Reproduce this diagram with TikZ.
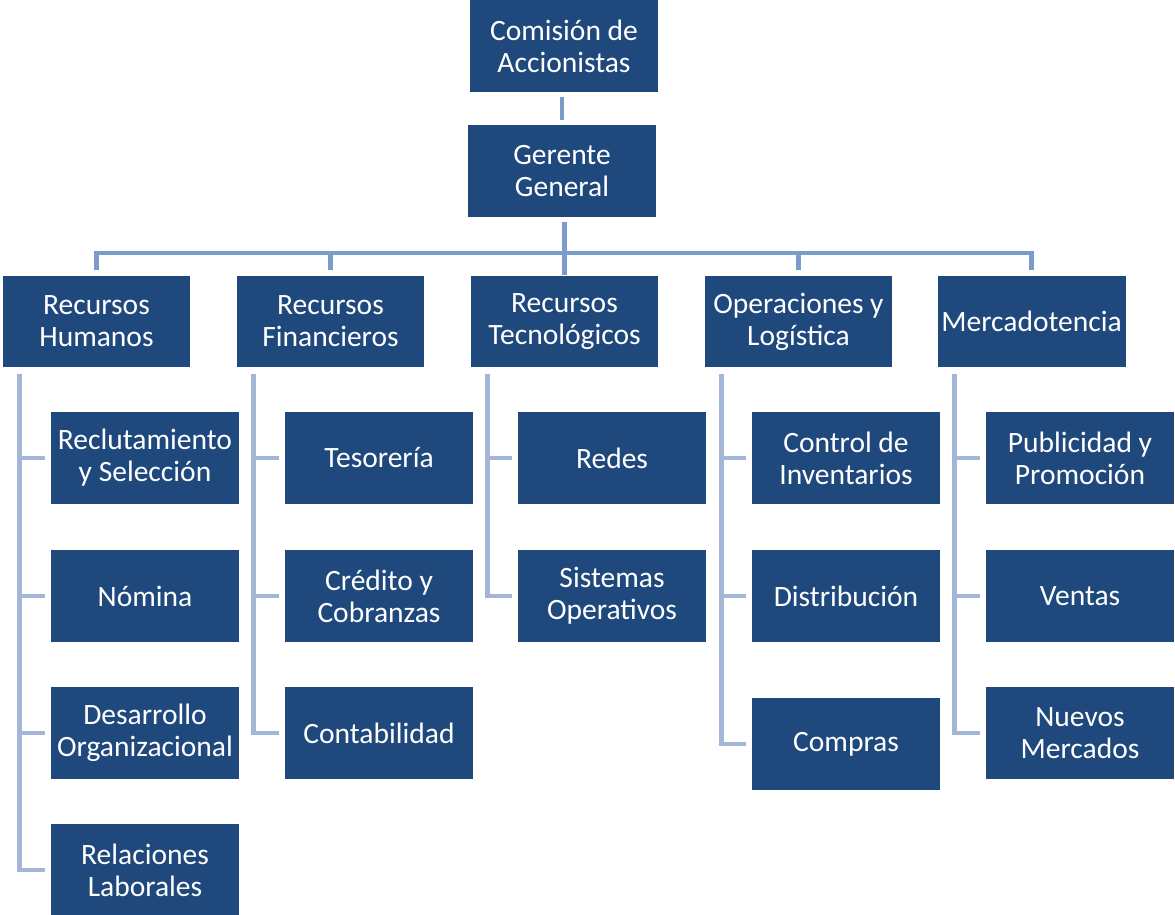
\documentclass[tikz,border=0pt]{standalone}
\usepackage{fontspec}
\setmainfont{Carlito}
\definecolor{boxblue}{HTML}{1F497D}
\definecolor{linemain}{HTML}{7B9BCB}
\definecolor{linesub}{HTML}{A4B6D8}
\tikzset{
	unit/.style={fill=boxblue, text=white, minimum width=3.76cm, minimum height=1.84cm, inner sep=1pt, align=center, font=\fontsize{16.8}{18.3}\selectfont},
	mainline/.style={draw=linemain, line width=2.8pt},
	subline/.style={draw=linesub, line width=2.8pt},
}
\begin{document}
\begin{tikzpicture}[x=0.02cm, y=-0.02cm]
	\useasboundingbox (0,0) rectangle (1175,915);
	% top
	\node[unit] (comision) at (564,46) {Comisión de\\Accionistas};
	\node[unit] (gerente) at (562,171) {Gerente\\General};
	\draw[mainline, shorten <=0.1cm, shorten >=0.1cm] (gerente) -- (gerente |- comision.south);
	% areas
	\foreach \n/\x/\t in {rh/96.5/{Recursos\\Humanos}, rf/330.5/{Recursos\\Financieros}, rt/564.5/{Recursos\\Tecnológicos}, ol/798.5/{Operaciones y\\Logística}, merc/1031.5/{Mercadotencia}}
	\node[unit] (\n) at (\x,321.5) {\t};
	\coordinate (bus) at (564,253);
	\draw[mainline, shorten <=0.1cm] (gerente.south -| rt) -- (rt.north);
	\draw[mainline, shorten <=0.1cm, shorten >=0.1cm] (rh.north) -- (bus -| rh) -- (bus -| merc) -- (merc.north);
	\foreach \n in {rf,ol}
	\draw[mainline, shorten >=0.1cm] (bus -| \n) -- (\n.north);
	% departments
	\foreach \i/\y/\t in {1/458/{Reclutamiento\\y Selección}, 2/596/{Nómina}, 3/733/{Desarrollo\\Organizacional}, 4/870/{Relaciones\\Laborales}}
	\node[unit] (rh\i) at (145,\y) {\t};
	\foreach \i/\y/\t in {1/458/{Tesorería}, 2/596/{Crédito y\\Cobranzas}, 3/733/{Contabilidad}}
	\node[unit] (rf\i) at (379,\y) {\t};
	\foreach \i/\y/\t in {1/458/{Redes}, 2/596/{Sistemas\\Operativos}}
	\node[unit] (rt\i) at (612,\y) {\t};
	\foreach \i/\y/\t in {1/458/{Control de\\Inventarios}, 2/596/{Distribución}, 3/744/{Compras}}
	\node[unit] (ol\i) at (846,\y) {\t};
	\foreach \i/\y/\t in {1/458/{Publicidad y\\Promoción}, 2/596/{Ventas}, 3/733/{Nuevos\\Mercados}}
	\node[unit] (merc\i) at (1080,\y) {\t};
	% department lines
	\foreach \n/\k in {rh/4, rf/3, rt/2, ol/3, merc/3}{
		\coordinate (\n top) at ([xshift=0.34cm, yshift=-0.12cm]\n.south west);
		\foreach \i in {1,...,\k}
		\draw[subline] (\n top) |- ([xshift=-0.12cm]\n\i.west);
	}
\end{tikzpicture}
\end{document}
